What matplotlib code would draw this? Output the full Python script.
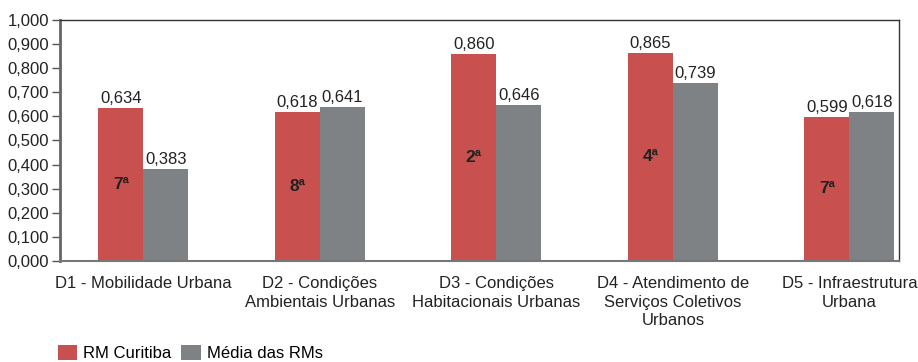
import matplotlib
matplotlib.use("Agg")
import matplotlib.pyplot as plt
from matplotlib.ticker import FuncFormatter, MultipleLocator
from matplotlib.patches import Patch
import numpy as np

plt.rcParams['font.family'] = ['Liberation Sans', 'DejaVu Sans']

categories = ["D1 - Mobilidade Urbana",
              "D2 - Condições\nAmbientais Urbanas",
              "D3 - Condições\nHabitacionais Urbanas",
              "D4 - Atendimento de\nServiços Coletivos\nUrbanos",
              "D5 - Infraestrutura\nUrbana"]
rm_curitiba = [0.634, 0.618, 0.860, 0.865, 0.599]
media_rms = [0.383, 0.641, 0.646, 0.739, 0.618]
ranks = ["7ª", "8ª", "2ª", "4ª", "7ª"]
series_names = ["RM Curitiba", "Média das RMs"]

RED = "#C8514F"
GRAY = "#7E8285"

fig = plt.figure(figsize=(9.18, 3.62), dpi=100)
ax = fig.add_axes([60/918, 1-261/362, (899-60)/918, (261-20)/362])

x = np.arange(len(categories))
w = 0.255
ax.bar(x - w/2, rm_curitiba, w, color=RED, edgecolor='none', zorder=2)
ax.bar(x + w/2, media_rms, w, color=GRAY, edgecolor='none', zorder=2)

fmt = lambda v: f"{v:.3f}".replace(".", ",")
for xi, v in zip(x - w/2, rm_curitiba):
    ax.text(xi, v + 0.008, fmt(v), ha='center', va='bottom', fontsize=12, color='#222222')
for xi, v in zip(x + w/2, media_rms):
    ax.text(xi, v + 0.008, fmt(v), ha='center', va='bottom', fontsize=12, color='#222222')
for xi, v, r in zip(x - w/2, rm_curitiba, ranks):
    ax.text(xi, v/2, r, ha='center', va='center', fontsize=12.5, fontweight='bold', color='#222222')

ax.set_xlim(-0.4725, 4.281)
ax.set_ylim(0, 1.0)
ax.yaxis.set_major_locator(MultipleLocator(0.1))
ax.yaxis.set_major_formatter(FuncFormatter(lambda v, p: fmt(v)))
ax.set_xticks(x)
ax.set_xticklabels(categories, fontsize=12, color='#222222', linespacing=1.3)
ax.tick_params(axis='x', length=0, pad=11)
ax.tick_params(axis='y', length=6, width=1, color='#555555', labelsize=12, labelcolor='#222222', pad=2)

ax.spines['left'].set_color('#666666')
ax.spines['left'].set_linewidth(2)
ax.spines['bottom'].set_color('#777777')
ax.spines['bottom'].set_linewidth(1.5)
ax.spines['top'].set_color('#333333')
ax.spines['top'].set_linewidth(1)
ax.spines['right'].set_color('#333333')
ax.spines['right'].set_linewidth(1)

handles = [Patch(facecolor=RED, edgecolor='none'), Patch(facecolor=GRAY, edgecolor='none')]
fig.legend(handles, series_names, loc='center left', bbox_to_anchor=(58/918, 9/362),
           ncol=2, frameon=False, fontsize=12, handlelength=1.15, handleheight=1.0,
           handletextpad=0.36, columnspacing=0.6, borderaxespad=0, borderpad=0)

fig.savefig("out.png", dpi=100)
